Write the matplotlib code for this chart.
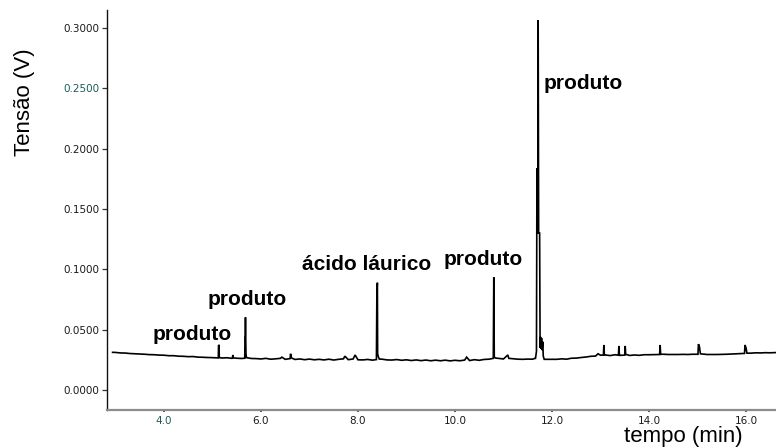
import matplotlib
matplotlib.use("Agg")
import matplotlib.pyplot as plt
import numpy as np

# ---- data ----
base_t = [2.94, 3.0, 3.1, 3.2, 3.3, 3.4, 3.5, 3.6, 3.7, 3.8, 3.9, 4.0, 4.1, 4.2, 4.3, 4.4,
          4.5, 4.6, 4.7, 4.8, 4.9, 5.0, 5.1, 5.2, 5.3, 5.4, 5.5, 5.6, 5.7, 5.8, 5.9, 6.0,
          6.1, 6.2, 6.3, 6.4, 6.5, 6.6, 6.7, 6.8, 6.9, 7.0, 7.1, 7.2, 7.3, 7.4, 7.5, 7.6,
          7.7, 7.8, 7.9, 8.0, 8.1, 8.2, 8.3, 8.5, 8.6, 8.7, 8.8, 8.9, 9.0, 9.1, 9.2, 9.3,
          9.4, 9.5, 9.6, 9.7, 9.8, 9.9, 10.0, 10.1, 10.2, 10.3, 10.4, 10.5, 10.6, 10.7,
          10.9, 11.0, 11.2, 11.3, 11.4, 11.5, 11.6, 11.65, 12.0, 12.1, 12.2, 12.3, 12.4,
          12.5, 12.6, 12.7, 12.8, 12.9, 13.0, 13.1, 13.2, 13.3, 13.4, 13.6, 13.7, 13.8,
          13.9, 14.0, 14.1, 14.3, 14.4, 14.5, 14.6, 14.7, 14.8, 14.9, 15.1, 15.2, 15.3,
          15.4, 15.5, 15.6, 15.7, 15.8, 15.9, 16.1, 16.2, 16.3, 16.4, 16.5, 16.62]
base_v = [.0312, .0311, .0307, .0306, .0302, .0300, .0298, .0296, .0293, .0292, .0289, .0288,
          .0284, .0284, .0280, .0279, .0276, .0277, .0272, .0271, .0269, .0268, .0266, .0265,
          .0267, .0262, .0263, .0261, .0264, .0261, .0260, .0257, .0262, .0255, .0258, .0262,
          .0254, .0260, .0253, .0257, .0251, .0256, .0250, .0254, .0249, .0255, .0248, .0254,
          .0258, .0251, .0257, .0250, .0249, .0253, .0247, .0255, .0249, .0248, .0252, .0246,
          .0250, .0244, .0249, .0243, .0248, .0242, .0247, .0242, .0247, .0241, .0246, .0242,
          .0248, .0244, .0251, .0246, .0253, .0255, .0262, .0257, .0259, .0255, .0254, .0256,
          .0255, .0262, .0254, .0254, .0258, .0255, .0263, .0264, .0269, .0273, .0279, .0281,
          .0288, .0290, .0285, .0292, .0287, .0286, .0290, .0287, .0292, .0292, .0293, .0296,
          .0294, .0294, .0294, .0295, .0294, .0296, .0298, .0294, .0294, .0294, .0295, .0296,
          .0298, .0300, .0302, .0305, .0308, .0307, .0309, .0308, .0310]

peak_t = [5.12, 5.125, 5.135, 5.14,
          5.41, 5.42, 5.43,
          5.665, 5.67, 5.675, 5.68, 5.685, 5.69, 5.70,
          6.43, 6.61, 6.63,
          7.73, 7.94,
          8.38, 8.39, 8.395, 8.40, 8.405, 8.42, 8.44,
          10.24,
          10.79, 10.80, 10.81, 10.83,
          11.09, 11.11,
          11.66, 11.68, 11.69, 11.695, 11.70, 11.705, 11.715, 11.725, 11.745, 11.755,
          11.765, 11.775, 11.785, 11.795, 11.81, 11.82, 11.84,
          12.95,
          13.06, 13.07, 13.08,
          13.37, 13.38, 13.39,
          13.50, 13.51, 13.52, 13.55,
          14.22, 14.23, 14.24,
          15.01, 15.02, 15.04, 15.06,
          15.97, 15.98, 16.00, 16.02]
peak_v = [.0267, .0372, .0370, .0268,
          .0264, .0290, .0266,
          .0263, .0440, .0450, .0602, .0450, .0300, .0268,
          .0272, .0300, .0265,
          .0280, .0290,
          .0252, .0843, .0845, .0889, .0300, .0275, .0256,
          .0272,
          .0262, .0934, .0275, .0265,
          .0290, .0262,
          .0262, .0320, .1837, .1300, .1837, .1300, .3066, .1300, .1300, .0350,
          .0440, .0340, .0430, .0330, .0400, .0280, .0254,
          .0300,
          .0290, .0373, .0290,
          .0288, .0365, .0289,
          .0289, .0365, .0295, .0292,
          .0294, .0373, .0296,
          .0296, .0380, .0360, .0300,
          .0303, .0373, .0350, .0305]

labels = ["produto", "produto", "ácido láurico", "produto", "produto"]
label_t = [3.77, 4.90, 6.85, 9.77, 11.835]
label_v = [0.0414, 0.0704, 0.0995, 0.1036, 0.2494]

y_ticks = [0.0, 0.05, 0.10, 0.15, 0.20, 0.25, 0.30]
x_ticks = [4.0, 6.0, 8.0, 10.0, 12.0, 14.0, 16.0]

# ---- assemble series ----
t = np.array(base_t + peak_t)
v = np.array(base_v + peak_v)
order = np.argsort(t, kind="stable")
t, v = t[order], v[order]

W, H = 776, 448
fig = plt.figure(figsize=(W / 100, H / 100), dpi=100)
ax = fig.add_axes([107.3 / W, (H - 410) / H, (W - 107.3) / W, 400 / H])

ax.plot(t, v, color="black", lw=1.2, solid_joinstyle="miter")

ax.set_xlim(2.831, 16.619)
ax.set_ylim(-0.0166, 0.3149)

ax.set_yticks(y_ticks)
ax.set_yticklabels([f"{y:.4f}" for y in y_ticks])
ax.set_xticks(x_ticks)
ax.set_xticklabels([f"{x:.1f}" for x in x_ticks])

teal = "#1d5c5c"
for lab in ax.get_yticklabels():
    lab.set_fontsize(7.5)
    lab.set_family("DejaVu Sans")
    lab.set_color(teal if lab.get_text() == "0.2500" else "#1a1a1a")
for lab in ax.get_xticklabels():
    lab.set_fontsize(7.5)
    lab.set_family("DejaVu Sans")
    lab.set_color(teal if lab.get_text() == "4.0" else "#1a1a1a")

ax.tick_params(axis="y", direction="out", length=3.5, width=0.9, pad=2, color="#333333")
ax.tick_params(axis="x", direction="out", length=1.5, width=1.2, pad=3, color="#333333")

for s in ["top", "right"]:
    ax.spines[s].set_visible(False)
ax.spines["left"].set_color("#111111")
ax.spines["left"].set_linewidth(1.0)
ax.spines["bottom"].set_color("#8c8c8c")
ax.spines["bottom"].set_linewidth(1.6)

for txt, tx, ty in zip(labels, label_t, label_v):
    ax.text(tx, ty, txt, fontsize=15, fontweight="bold", family="Liberation Sans",
            ha="left", va="baseline", color="black")

fig.text(25 / W, 1 - 102 / H, "Tensão (V)", rotation=90, fontsize=16,
         family="Liberation Sans", ha="center", va="center")
fig.text(683 / W, 1 - 436 / H, "tempo (min)", fontsize=16,
         family="Liberation Sans", ha="center", va="center")

fig.savefig("out.png", dpi=100)
